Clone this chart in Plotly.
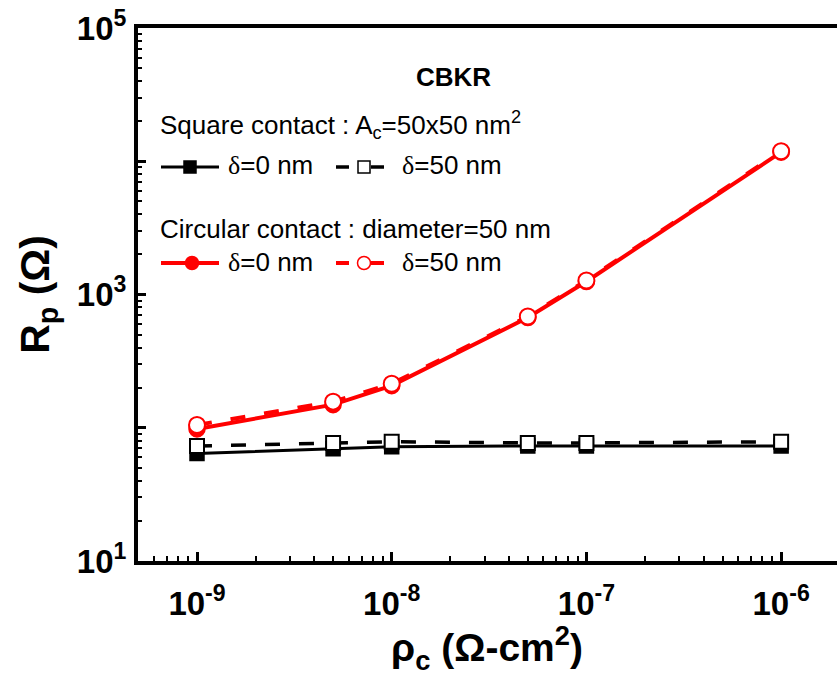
import plotly.graph_objects as go

# Specific contact resistivity (ohm-cm^2) and parasitic resistance (ohm)
rho_c = [1e-9, 5e-9, 1e-8, 5e-8, 1e-7, 1e-6]
sq_d0 = [64, 69.5, 72, 73, 73, 73]
sq_d50 = [73, 77, 78.5, 77, 77, 78.5]
circ_d0 = [98, 149, 207, 672, 1253, 11700]
circ_d50 = [105, 157, 214, 684, 1275, 11900]

x_major = [1e-9, 1e-8, 1e-7, 1e-6]
x_major_text = ["10<sup>-9</sup>", "10<sup>-8</sup>", "10<sup>-7</sup>", "10<sup>-6</sup>"]
y_major = [1e1, 1e2, 1e3, 1e4, 1e5]
y_major_text = ["10<sup>1</sup>", "", "10<sup>3</sup>", "", "10<sup>5</sup>"]

W, H = 837, 677
L, R, T, B = 138, 837, 28, 561  # plot-area edges in pixels

FONT = "Arial, Liberation Sans, sans-serif"
RED = "#ff0000"


def px(x):
    return (x - L) / (R - L)


def py(y):
    return (B - y) / (B - T)


fig = go.Figure()

fig.add_trace(go.Scatter(
    x=rho_c, y=sq_d0, mode="lines+markers",
    line=dict(color="black", width=3),
    marker=dict(symbol="square", size=14, color="black", line=dict(color="black", width=1.5)),
))
fig.add_trace(go.Scatter(
    x=rho_c, y=sq_d50, mode="lines+markers",
    line=dict(color="black", width=3.5, dash="15px,19px"),
    marker=dict(symbol="square", size=14, color="white", line=dict(color="black", width=2)),
))
fig.add_trace(go.Scatter(
    x=rho_c, y=circ_d0, mode="lines+markers",
    line=dict(color=RED, width=4),
    marker=dict(symbol="circle", size=16, color=RED, line=dict(color=RED, width=1.5)),
))
fig.add_trace(go.Scatter(
    x=rho_c, y=circ_d50, mode="lines+markers",
    line=dict(color=RED, width=4, dash="15px,19px"),
    marker=dict(symbol="circle", size=16, color="white", line=dict(color=RED, width=2)),
))

# Minor log ticks (2..9 per decade)
x_minor = [k * 10.0 ** e for e in range(-10, -5) for k in range(2, 10)]
y_minor = [k * 10.0 ** e for e in range(1, 5) for k in range(2, 10)]

TITLE = dict(family=FONT, size=41, color="black", weight="bold")

fig.update_xaxes(
    type="log", range=[-9.303, -5.713],
    tickvals=x_major, ticktext=x_major_text,
    ticks="inside", ticklen=9, tickwidth=3, tickcolor="black",
    minor=dict(tickvals=x_minor, ticks="inside", ticklen=5, tickwidth=2, tickcolor="black"),
    showline=True, linewidth=4, linecolor="black", mirror=True,
    showgrid=False, zeroline=False,
    tickfont=dict(family=FONT, size=33, color="black", weight="bold"),
    ticklabelstandoff=10,
)
fig.update_yaxes(
    type="log", range=[1, 5],
    tickvals=y_major, ticktext=y_major_text,
    ticks="inside", ticklen=8, tickwidth=3, tickcolor="black",
    minor=dict(tickvals=y_minor, ticks="inside", ticklen=4, tickwidth=2, tickcolor="black"),
    showline=True, linewidth=4, linecolor="black", mirror=False,
    showgrid=False, zeroline=False,
    tickfont=dict(family=FONT, size=33, color="black", weight="bold"),
    ticklabelstandoff=1,
    title=dict(text="R<sub>p</sub> (Ω)", font=TITLE),
)

TXT = dict(family=FONT, size=26, color="black")
DELTA = '<span style="font-family:Liberation Serif, Times New Roman, serif">δ</span>'
annotations = [
    # x-axis title
    dict(x=px(487), y=py(648), text="ρ<sub>c</sub> (Ω-cm<sup>2</sup>)",
         font=dict(family=FONT, size=39, color="black", weight="bold")),
    # Legend text
    dict(x=px(453), y=py(77), text="<b>CBKR</b>", font=dict(family=FONT, size=26, color="black")),
    dict(x=px(158), y=py(125), text="Square contact : A<sub>c</sub>=50x50 nm<sup>2</sup>", xanchor="left", font=TXT),
    dict(x=px(226), y=py(165), text=DELTA + "=0 nm", xanchor="left", font=TXT),
    dict(x=px(400), y=py(165), text=DELTA + "=50 nm", xanchor="left", font=TXT),
    dict(x=px(158), y=py(229), text="Circular contact : diameter=50 nm", xanchor="left", font=TXT),
    dict(x=px(226), y=py(262), text=DELTA + "=0 nm", xanchor="left", font=TXT),
    dict(x=px(400), y=py(262), text=DELTA + "=50 nm", xanchor="left", font=TXT),
]
for a in annotations:
    a.update(xref="paper", yref="paper", showarrow=False, yanchor="middle")

shapes = []


def seg(x0, x1, y, color, width):
    shapes.append(dict(type="line", xref="paper", yref="paper",
                       x0=px(x0), x1=px(x1), y0=py(y), y1=py(y),
                       line=dict(color=color, width=width)))


def box(cx, cy, s, fill, edge, kind):
    shapes.append(dict(type=kind, xref="paper", yref="paper",
                       x0=px(cx - s / 2), x1=px(cx + s / 2), y0=py(cy + s / 2), y1=py(cy - s / 2),
                       fillcolor=fill, line=dict(color=edge, width=1.5)))


# Square contact samples
seg(161, 219, 167, "black", 3)
box(190, 167, 12, "black", "black", "rect")
seg(336, 349, 167, "black", 3.5)
seg(371, 384, 167, "black", 3.5)
box(364, 167, 12, "white", "black", "rect")
# Circular contact samples
seg(161, 219, 263, RED, 4)
box(192, 263, 13, RED, RED, "circle")
seg(336, 349, 263, RED, 4)
seg(371, 384, 263, RED, 4)
box(364, 263, 13, "white", RED, "circle")

fig.update_layout(
    width=W, height=H,
    margin=dict(l=L, r=W - R, t=T, b=H - B),
    paper_bgcolor="white", plot_bgcolor="white",
    showlegend=False,
    annotations=annotations, shapes=shapes,
)

fig.write_html("out.html")
